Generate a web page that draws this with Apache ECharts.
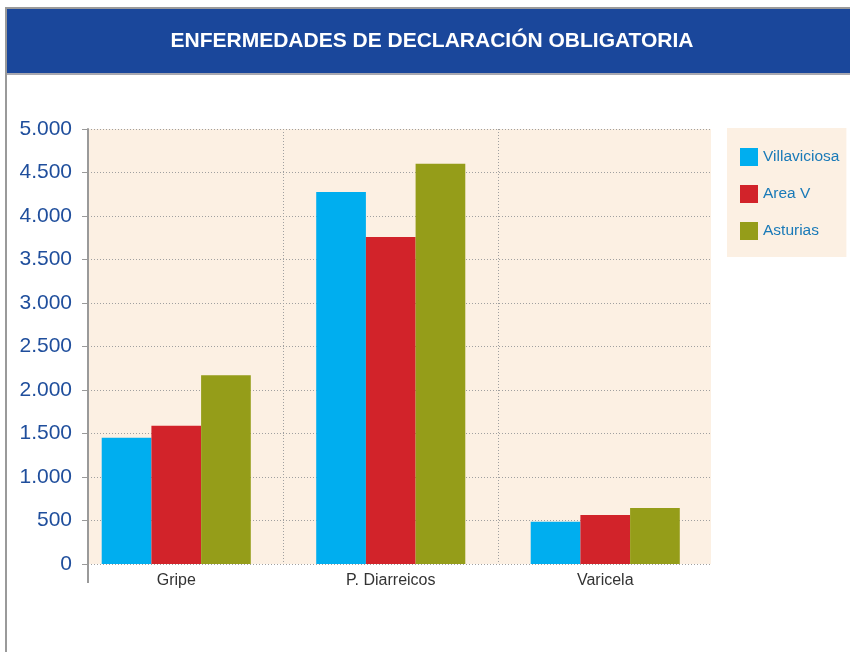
<!DOCTYPE html>
<html><head><meta charset="utf-8">
<script src="https://cdn.jsdelivr.net/npm/echarts@6/dist/echarts.min.js"></script>
<style>html,body{margin:0;padding:0;background:#fff}#c{width:850px;height:652px}</style>
</head><body><div id="c"></div>
<script>
const titleText = 'ENFERMEDADES DE DECLARACIÓN OBLIGATORIA';
const categories = ['Gripe', 'P. Diarreicos', 'Varicela'];
const seriesNames = ['Villaviciosa', 'Area V', 'Asturias'];
const villaviciosa = [1450, 4275, 486];
const areaV = [1590, 3760, 563];
const asturias = [2170, 4600, 644];
const seriesColors = ['#00aeef', '#d2232a', '#959d19'];
const yMin = 0, yMax = 5000, yStep = 500;

const fmt = v => String(v).replace(/\B(?=(\d{3})+(?!\d))/g, '.');
const values = [villaviciosa, areaV, asturias];

const chart = echarts.init(document.getElementById('c'), null, {renderer: 'canvas'});
chart.setOption({
  animation: false,
  backgroundColor: '#ffffff',
  textStyle: {fontFamily: 'Liberation Sans, Arial, sans-serif'},
  graphic: [
    {type: 'rect', shape: {x: 7, y: 9, width: 843, height: 64}, style: {fill: '#1a479b'}, z: -1},
    {type: 'rect', shape: {x: 5, y: 7, width: 845, height: 2}, style: {fill: '#9a9a9a'}, z: -1},
    {type: 'rect', shape: {x: 5, y: 7, width: 2, height: 645}, style: {fill: '#9a9a9a'}, z: -1},
    {type: 'rect', shape: {x: 7, y: 73, width: 843, height: 2}, style: {fill: '#a8a8b0'}, z: -1},
    {type: 'rect', shape: {x: 87, y: 560, width: 2, height: 23}, style: {fill: '#9a9a9a'}, z: 5},
    {type: 'text', style: {x: 432, y: 41, text: titleText, fill: '#ffffff', font: 'bold 21px "Liberation Sans", Arial, sans-serif', textAlign: 'center', textVerticalAlign: 'middle'}, z: 5}
  ],
  legend: {
    data: seriesNames,
    orient: 'vertical',
    left: 727, top: 128,
    padding: [20, 7, 17, 13],
    itemWidth: 18, itemHeight: 18, itemGap: 19,
    backgroundColor: '#fcf0e3',
    icon: 'rect',
    textStyle: {color: '#1a7ab8', fontSize: 15.5, fontFamily: 'Liberation Sans, Arial, sans-serif'}
  },
  grid: [
    {left: 88, top: 129, width: 623, height: 435, show: true, backgroundColor: '#fcf0e3', borderWidth: 0, containLabel: false},
    {left: 69, top: 129, width: 643.5, height: 435, show: false, containLabel: false}
  ],
  xAxis: [
    {gridIndex: 0, type: 'value', show: false, min: 0, max: 1},
    {gridIndex: 1, type: 'category', data: categories,
     axisLine: {show: false}, axisTick: {show: false},
     axisLabel: {color: '#333333', fontSize: 16, margin: 9},
     splitLine: {show: true, showMinLine: false, showMaxLine: false, lineStyle: {color: '#a0a0a0', type: [1, 2], width: 1}}}
  ],
  yAxis: [
    {gridIndex: 0, type: 'value', min: yMin, max: yMax, interval: yStep,
     axisLine: {show: true, lineStyle: {color: '#9a9a9a', width: 2}},
     axisTick: {show: true, length: 6, lineStyle: {color: '#9a9a9a', width: 1}},
     axisLabel: {color: '#1f4e9c', fontSize: 21, margin: 16, formatter: fmt},
     splitLine: {show: true, lineStyle: {color: '#a0a0a0', type: [1, 2], width: 1}}},
    {gridIndex: 1, type: 'value', min: yMin, max: yMax, interval: yStep, show: false, splitLine: {show: false}}
  ],
  series: seriesNames.map((name, i) => ({
    name: name, type: 'bar', xAxisIndex: 1, yAxisIndex: 1,
    data: values[i],
    barGap: '0%', barCategoryGap: '30.5%',
    itemStyle: {color: seriesColors[i]}
  }))
});
</script></body></html>
